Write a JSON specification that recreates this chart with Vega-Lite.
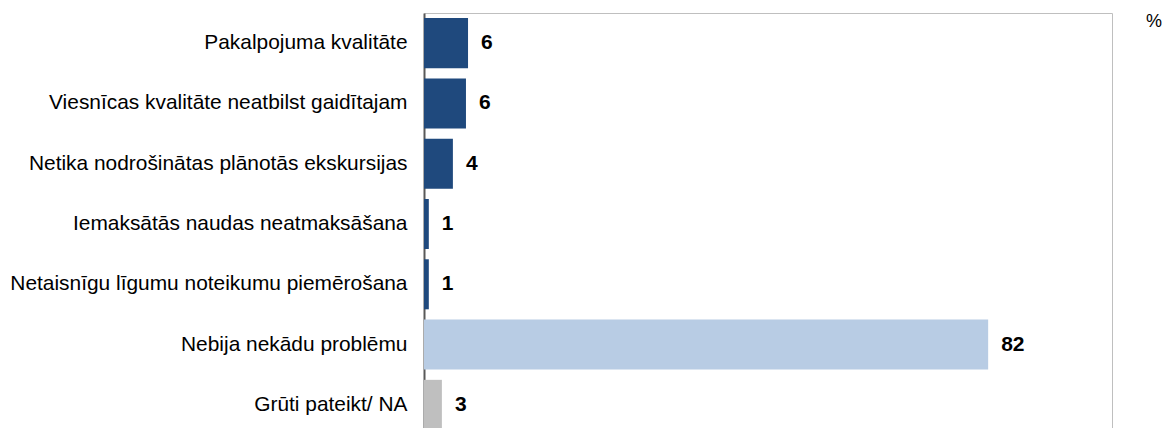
{
  "$schema": "https://vega.github.io/schema/vega-lite/v6.json",
  "width": 688,
  "height": 422,
  "autosize": {"type": "none"},
  "padding": {"left": 424, "top": 13, "right": 56, "bottom": 0},
  "background": "white",
  "title": {"text": "%", "anchor": "end", "orient": "top", "dx": 50, "dy": 32, "offset": 0, "baseline": "alphabetic", "font": "Liberation Sans", "fontSize": 18, "fontWeight": "normal", "color": "#000000"},
  "config": {
    "view": {"stroke": "#BFBFBF", "strokeWidth": 1},
    "font": "Liberation Sans"
  },
  "data": {"values": [
    {"label": "Pakalpojuma kvalitāte", "value": 6.4, "text": "6", "group": "a"},
    {"label": "Viesnīcas kvalitāte neatbilst gaidītajam", "value": 6.1, "text": "6", "group": "a"},
    {"label": "Netika nodrošinātas plānotās ekskursijas", "value": 4.2, "text": "4", "group": "a"},
    {"label": "Iemaksātās naudas neatmaksāšana", "value": 0.7, "text": "1", "group": "a"},
    {"label": "Netaisnīgu līgumu noteikumu piemērošana", "value": 0.7, "text": "1", "group": "a"},
    {"label": "Nebija nekādu problēmu", "value": 82, "text": "82", "group": "b"},
    {"label": "Grūti pateikt/ NA", "value": 2.6, "text": "3", "group": "c"}
  ]},
  "encoding": {
    "y": {"field": "label", "type": "nominal", "sort": null,
      "scale": {"paddingInner": 0.17, "paddingOuter": 0.085},
      "axis": {"title": null, "ticks": false, "labelFontSize": 20.9, "labelColor": "#000000", "labelPadding": 17, "domainColor": "#595959", "domainWidth": 2, "labelLimit": 424}},
    "x": {"field": "value", "type": "quantitative", "scale": {"domain": [0, 100], "nice": false}, "axis": null}
  },
  "layer": [
    {"mark": {"type": "bar"},
     "encoding": {"color": {"field": "group", "type": "nominal", "legend": null,
       "scale": {"domain": ["a", "b", "c"], "range": ["#1F497D", "#B8CCE4", "#BFBFBF"]}}}},
    {"mark": {"type": "text", "align": "left", "dx": 13, "fontSize": 21, "fontWeight": "bold", "color": "#000000"},
     "encoding": {"text": {"field": "text"}}}
  ]
}
